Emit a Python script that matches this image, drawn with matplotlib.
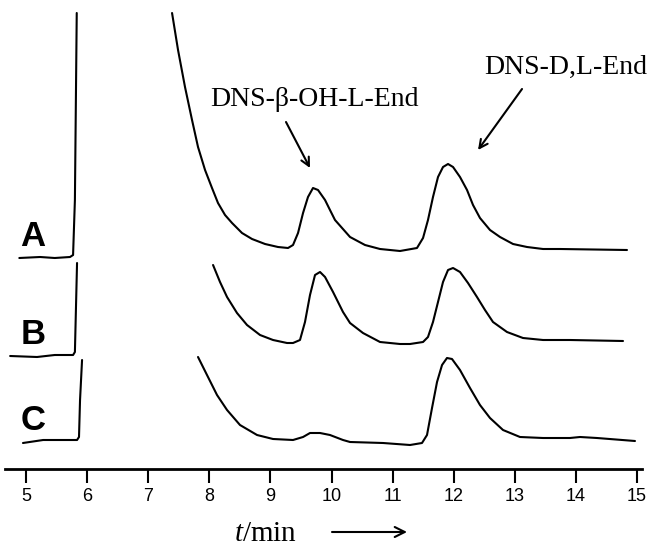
import matplotlib
matplotlib.use('Agg')
import matplotlib.pyplot as plt

plt.rcParams['mathtext.fontset'] = 'custom'
plt.rcParams['mathtext.rm'] = 'Liberation Serif'
plt.rcParams['mathtext.it'] = 'Liberation Serif:italic'

# retention time (min) and detector signal (a.u.)
# solvent fronts
tA0 = [4.89, 5.23, 5.47, 5.72, 5.77, 5.80, 5.83]
sA0 = [288, 289, 288, 289, 291, 346, 533]
tB0 = [4.74, 5.18, 5.47, 5.77, 5.80, 5.835]
sB0 = [190, 189, 191, 191, 194, 283]
tC0 = [4.95, 5.28, 5.835, 5.867, 5.884, 5.917]
sC0 = [103, 106, 106, 109, 146, 186]

# main traces
tA = [7.390, 7.488, 7.602, 7.717, 7.815, 7.930, 8.044, 8.142, 8.257, 8.372, 8.535,
      8.699, 8.912, 9.124, 9.288, 9.370, 9.452, 9.534, 9.615, 9.697, 9.779, 9.894,
      9.975, 10.057, 10.303, 10.548, 10.794, 11.121, 11.399, 11.498, 11.579, 11.661,
      11.743, 11.825, 11.907, 11.989, 12.103, 12.218, 12.316, 12.430, 12.594, 12.758,
      12.971, 13.200, 13.462, 13.740, 14.836]
sA = [533, 496, 459, 426, 399, 376, 358, 343, 331, 323, 313,
      307, 302, 299, 298, 301, 313, 333, 349, 358, 356, 346,
      336, 326, 309, 301, 297, 295, 298, 308, 326, 349,
      369, 379, 382, 379, 369, 356, 341, 328, 316, 309,
      302, 299, 297, 297, 296]
tB = [8.061, 8.175, 8.290, 8.453, 8.617, 8.830, 9.043, 9.272, 9.370, 9.484, 9.566,
      9.648, 9.730, 9.812, 9.894, 10.025, 10.188, 10.303, 10.515, 10.794, 11.121,
      11.285, 11.498, 11.579, 11.661, 11.743, 11.825, 11.907, 11.989, 12.103, 12.234,
      12.381, 12.512, 12.643, 12.872, 13.134, 13.462, 13.903, 14.771]
sB = [281, 264, 249, 233, 221, 211, 206, 203, 203, 206, 224,
      251, 271, 274, 269, 254, 234, 223, 213, 204, 202,
      202, 204, 209, 224, 244, 264, 276, 278, 274, 263,
      249, 236, 224, 214, 208, 206, 206, 205]
tC = [7.815, 7.962, 8.126, 8.290, 8.502, 8.781, 9.043, 9.370, 9.534, 9.648, 9.812,
      9.975, 10.188, 10.303, 10.843, 11.285, 11.481, 11.563, 11.645, 11.727, 11.809,
      11.890, 11.972, 12.103, 12.267, 12.430, 12.594, 12.807, 13.085, 13.462, 13.903,
      14.067, 14.345, 14.967]
sC = [189, 171, 151, 136, 121, 111, 107, 106, 109, 113, 113,
      111, 106, 104, 103, 101, 103, 111, 138, 164, 181,
      188, 187, 176, 158, 141, 128, 116, 109, 108, 108,
      109, 108, 105]

trace_labels = ['A', 'B', 'C']
label_y = [309, 211, 125]
xticks = [5, 6, 7, 8, 9, 10, 11, 12, 13, 14, 15]

fig = plt.figure(figsize=(6.56, 5.46), dpi=100)
ax = fig.add_axes([0, 0, 1, 1])
ax.set_xlim(4.574, 15.311)
ax.set_ylim(0, 546)

for t, s in [(tA0, sA0), (tA, sA), (tB0, sB0), (tB, sB), (tC0, sC0), (tC, sC)]:
    ax.plot(t, s, color='black', lw=1.5, solid_joinstyle='round',
            solid_capstyle='round')

for lab, y in zip(trace_labels, label_y):
    ax.text(5.115, y, lab, fontsize=25, fontweight='bold', family='Liberation Sans',
            ha='center', va='center')

# peak annotations
ax.text(9.714, 446, 'DNS-β-OH-L-End', fontsize=20, family='Liberation Serif',
        ha='center', va='center')
ax.annotate('', xy=(9.648, 378), xytext=(9.255, 424),
            arrowprops=dict(arrowstyle='->', lw=1.5, shrinkA=0, shrinkB=0,
                            mutation_scale=15))
ax.text(13.838, 479, 'DNS-D,L-End', fontsize=20, family='Liberation Serif',
        ha='center', va='center')
ax.annotate('', xy=(12.398, 396), xytext=(13.118, 457),
            arrowprops=dict(arrowstyle='->', lw=1.5, shrinkA=0, shrinkB=0,
                            mutation_scale=15))

# time axis
for side in ['left', 'right', 'top']:
    ax.spines[side].set_visible(False)
ax.spines['bottom'].set_position(('data', 77))
ax.spines['bottom'].set_bounds(4.65, 15.08)
ax.spines['bottom'].set_linewidth(2)
ax.set_xticks(xticks)
ax.tick_params(axis='x', direction='out', length=10, width=1.5, pad=4,
               labelsize=13)
for lbl in ax.get_xticklabels():
    lbl.set_family('Liberation Sans')
ax.set_yticks([])

ax.text(8.928, 5, '$t$/min', fontsize=21, family='Liberation Serif',
        ha='center', va='baseline')
ax.annotate('', xy=(11.236, 14), xytext=(10.008, 14),
            arrowprops=dict(arrowstyle='->', lw=1.5, mutation_scale=18,
                            shrinkA=0, shrinkB=0))

fig.savefig('out.png', dpi=100)
